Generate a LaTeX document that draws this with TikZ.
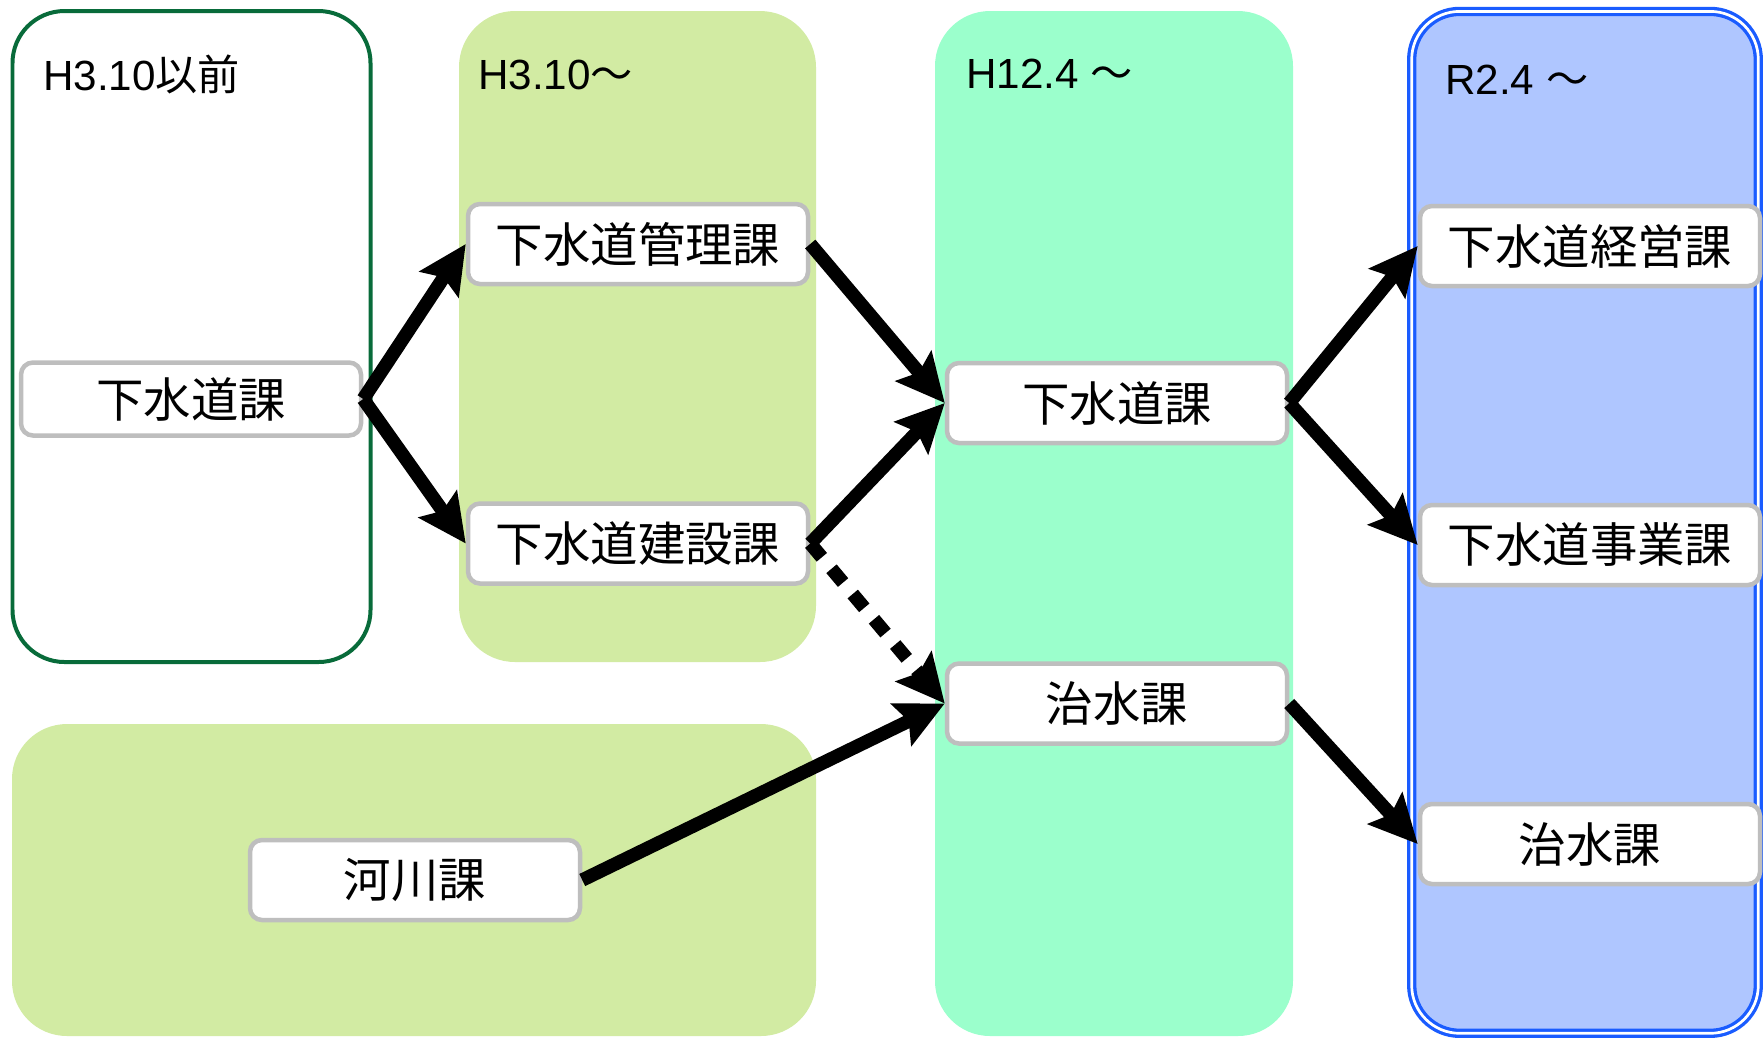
\documentclass[tikz,border=0pt]{standalone}
\usepackage{fontspec}
\setmainfont{Liberation Sans}
\newfontfamily\cjk{Noto Sans CJK JP}
\usetikzlibrary{arrows.meta}
\definecolor{edgeA}{HTML}{086B3A}
\definecolor{fillB}{HTML}{D2EBA3}
\definecolor{fillC}{HTML}{9BFFCC}
\definecolor{fillD}{HTML}{AFC6FF}
\definecolor{edgeD}{HTML}{1A5CFF}
\definecolor{boxline}{HTML}{BEBEBE}

\begin{document}
\begin{tikzpicture}[x=0.1mm, y=-0.1mm,
    every node/.style={rectangle, rounded corners=1.2mm, draw=boxline, line width=0.45mm, fill=white,
      minimum width=34mm, minimum height=8mm, inner sep=0pt, font=\cjk\fontsize{13.5}{16}\selectfont},
    head/.style={draw=none, fill=none, minimum width=0pt, minimum height=0pt, anchor=base west,
      font=\fontsize{12}{14}\selectfont},
    arr/.style={line width=1.35mm, -{Stealth[length=4.8mm, width=4.6mm, inset=0.8mm]}}]
        \useasboundingbox (0,0) rectangle (1764,1040);

        % Periodi
        \draw[edgeA, line width=0.4mm, rounded corners=5.2mm] (12.5,11) rectangle (370.5,662);
        \fill[fillB, rounded corners=5.6mm] (459,11) rectangle (816,662);
        \fill[fillB, rounded corners=5.5mm] (12,724) rectangle (816,1036);
        \fill[fillC, rounded corners=5.5mm] (935,11) rectangle (1293,1036);
        \draw[edgeD, fill=fillD, line width=0.33mm, double=white, double distance=0.27mm, rounded corners=4.8mm]
            (1411.7,11.4) rectangle (1758.3,1033.3);

        \node[head] (T1) at (41,90) {H3.10{\cjk 以前}};
        \node[head] (T2) at (476,89) {H3.10{\cjk ～}};
        \node[head] (T3) at (964,88) {H12.4 {\cjk ～}};
        \node[head] (T4) at (1443,94) {R2.4 {\cjk ～}};

        % Uffici
        \node (A) at (191,399) [minimum height=7.3mm] {下水道課};
        \node (B) at (638,244) {下水道管理課};
        \node (C) at (638,543.5) {下水道建設課};
        \node (D) at (415,880) [minimum width=33mm] {河川課};
        \node (E) at (1117,403) {下水道課};
        \node (F) at (1117,703.5) {治水課};
        \node (G) at (1590,246) {下水道経営課};
        \node (H) at (1590,545) {下水道事業課};
        \node (I) at (1590,844) {治水課};

        % Collegamenti
        \draw[arr] (A.east) -- (B.west);
        \draw[arr] (A.east) -- (C.west);
        \draw[arr] (B.east) -- (E.west);
        \draw[arr] (C.east) -- (E.west);
        \draw[arr, dash pattern=on 1.8mm off 1.5mm] (C.east) -- (F.west);
        \draw[arr] (D.east) -- (F.west);
        \draw[arr] (E.east) -- (G.west);
        \draw[arr] (E.east) -- (H.west);
        \draw[arr] (F.east) -- (I.west);
    \end{tikzpicture}
\end{document}
